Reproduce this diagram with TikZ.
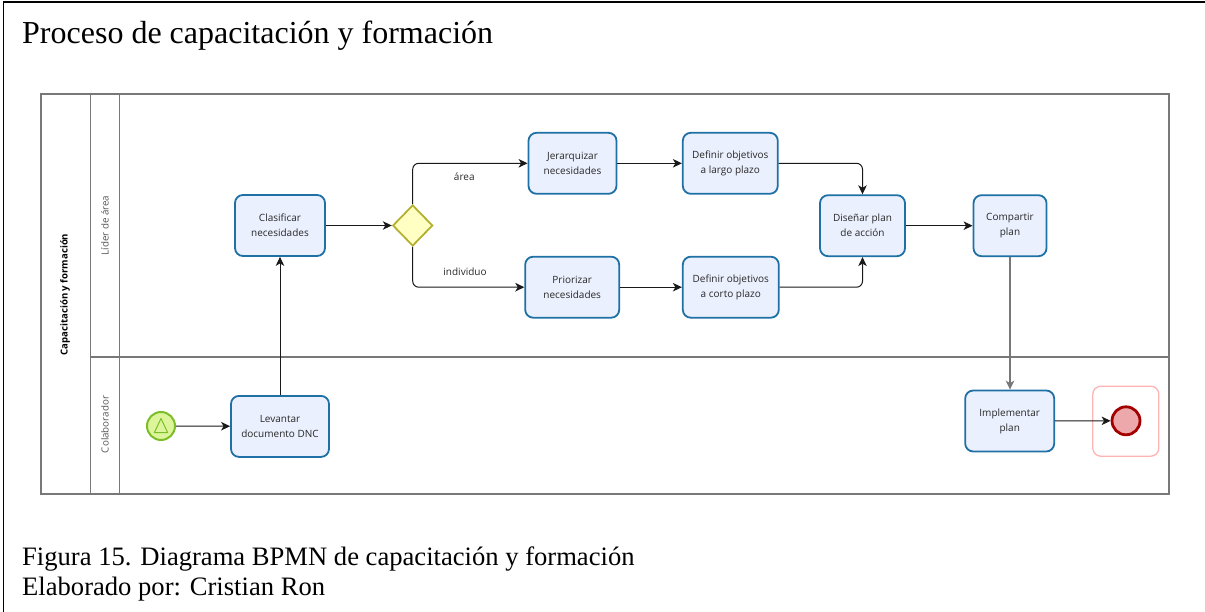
\documentclass[tikz,border=0pt]{standalone}
\usepackage{fontspec}
\setmainfont{Liberation Serif}
\newfontfamily\bpmnfont{Open Sans}
\usetikzlibrary{shapes.geometric,arrows.meta}

\definecolor{taskfill}{RGB}{234,240,253}
\definecolor{taskline}{RGB}{30,112,165}
\definecolor{tasktext}{RGB}{40,40,40}
\definecolor{poolline}{RGB}{120,120,120}
\definecolor{lanetext}{RGB}{85,85,85}
\definecolor{gwfill}{RGB}{255,255,196}
\definecolor{gwline}{RGB}{180,176,48}
\definecolor{startfill}{RGB}{220,245,155}
\definecolor{startline}{RGB}{125,190,40}
\definecolor{endfill}{RGB}{236,168,171}
\definecolor{endline}{RGB}{165,0,0}
\definecolor{endframe}{RGB}{255,180,180}
\definecolor{flowline}{RGB}{25,25,25}

\tikzset{
  task/.style={draw=taskline, fill=taskfill, line width=1.8pt, rounded corners=8pt,
    minimum height=61pt, inner sep=2pt, align=center, text=tasktext,
    font=\bpmnfont\fontsize{10}{15}\selectfont},
  gateway/.style={diamond, draw=gwline, fill=gwfill, line width=1.8pt,
    minimum width=40pt, minimum height=41pt, inner sep=0pt},
  startevent/.style={circle, draw=startline, fill=startfill, line width=2pt,
    minimum size=28pt, inner sep=0pt},
  endevent/.style={circle, draw=endline, fill=endfill, line width=2.8pt,
    minimum size=28pt, inner sep=0pt},
  endhalo/.style={draw=endframe, line width=1.3pt, rounded corners=8pt,
    minimum width=66pt, minimum height=70pt, inner sep=0pt},
  flow/.style={draw=flowline, line width=1pt,
    -{Stealth[length=9pt, width=8.5pt, inset=2.5pt]}},
  flowlabel/.style={font=\bpmnfont\fontsize{10}{12}\selectfont, text=tasktext, inner sep=0pt},
  pool/.style={draw=poolline, line width=1.2pt},
  lanelabel/.style={rotate=90, text=lanetext, inner sep=0pt,
    font=\bpmnfont\fontsize{9.8}{12}\selectfont},
}

\begin{document}
\begin{tikzpicture}[x=1pt, y=-1pt]
\useasboundingbox (0,0) rectangle (1205,612);

% page frame (top and left rule)
\draw[line width=1.5pt] (3.5,612) -- (3.5,2) -- (1205,2);

% title and caption
\node[anchor=base west, inner sep=0pt, font=\fontsize{32}{38}\selectfont] (title)
  at (22,43.3) {Proceso de capacitación y formación};
\node[anchor=base west, inner sep=0pt, font=\fontsize{26.6}{30}\selectfont] (caption)
  at (22,565.5) {Figura 15. Diagrama BPMN de capacitación y formación};
\node[anchor=base west, inner sep=0pt, font=\fontsize{26.6}{30}\selectfont] (author)
  at (22,595) {Elaborado por: Cristian Ron};

% pool and lanes
\draw[pool] (41,94) rectangle (1169,494);
\draw[pool] (90.3,94) -- (90.3,494);
\draw[pool] (119.7,94) -- (119.7,494);
\draw[pool] (90.3,357) -- (1169,357);

\node[rotate=90, inner sep=0pt, font=\bpmnfont\bfseries\fontsize{9.6}{12}\selectfont] (poolname)
  at (65,294.5) {Capacitación y formación};
\node[lanelabel] (lane1) at (105,225.5) {Líder de área};
\node[lanelabel] (lane2) at (105,424.5) {Colaborador};

% events and gateway
\node[startevent] (start) at (161,426) {};
\draw[startline, line width=1pt, line join=round]
  (start.center) ++(0,-7.5) -- ++(6.6,14) -- ++(-13.2,0) -- cycle;
\node[gateway] (gw) at (412.7,225.5) {};
\node[endhalo] (halo) at (1125.8,421.2) {};
\node[endevent] (fin) at (1126,420.8) {};

% tasks
\node[task, minimum width=98pt] (levantar) at (280,426.4) {Levantar\\documento DNC};
\node[task, minimum width=90pt] (clasificar) at (280,225.5) {Clasificar\\necesidades};
\node[task, minimum width=88pt] (jerarquizar) at (572.5,163.3) {Jerarquizar\\necesidades};
\node[task, minimum width=95pt] (largo) at (730.3,163.3) {Definir objetivos\\a largo plazo};
\node[task, minimum width=94pt] (priorizar) at (572.2,287.2) {Priorizar\\necesidades};
\node[task, minimum width=96pt] (corto) at (730.8,287.2) {Definir objetivos\\a corto plazo};
\node[task, minimum width=85pt] (disenar) at (862.5,225.7) {Diseñar plan\\de acción};
\node[task, minimum width=73pt] (compartir) at (1010,225.7) {Compartir\\plan};
\node[task, minimum width=89pt] (implementar) at (1009.7,421) {Implementar\\plan};

% sequence flows
\draw[flow] (start) -- (levantar);
\draw[flow] (levantar) -- (clasificar);
\draw[flow] (clasificar) -- (gw);
\draw[flow, rounded corners=6pt] (gw.north) |- (jerarquizar.west);
\draw[flow, rounded corners=6pt] (gw.south) |- (priorizar.west);
\draw[flow] (jerarquizar) -- (largo);
\draw[flow] (priorizar) -- (corto);
\draw[flow, rounded corners=6pt] (largo.east) -| (disenar.north);
\draw[flow, rounded corners=6pt] (corto.east) -| (disenar.south);
\draw[flow] (disenar) -- (compartir);
\draw[flow, draw=poolline, line width=1.3pt] (compartir.south) -- (compartir.south |- implementar.north);
\draw[flow] (implementar) -- (fin);

% branch labels
\node[flowlabel] (lblarea) at (464.3,176.7) {área};
\node[flowlabel] (lblindiv) at (465,271.7) {individuo};
\end{tikzpicture}
\end{document}
